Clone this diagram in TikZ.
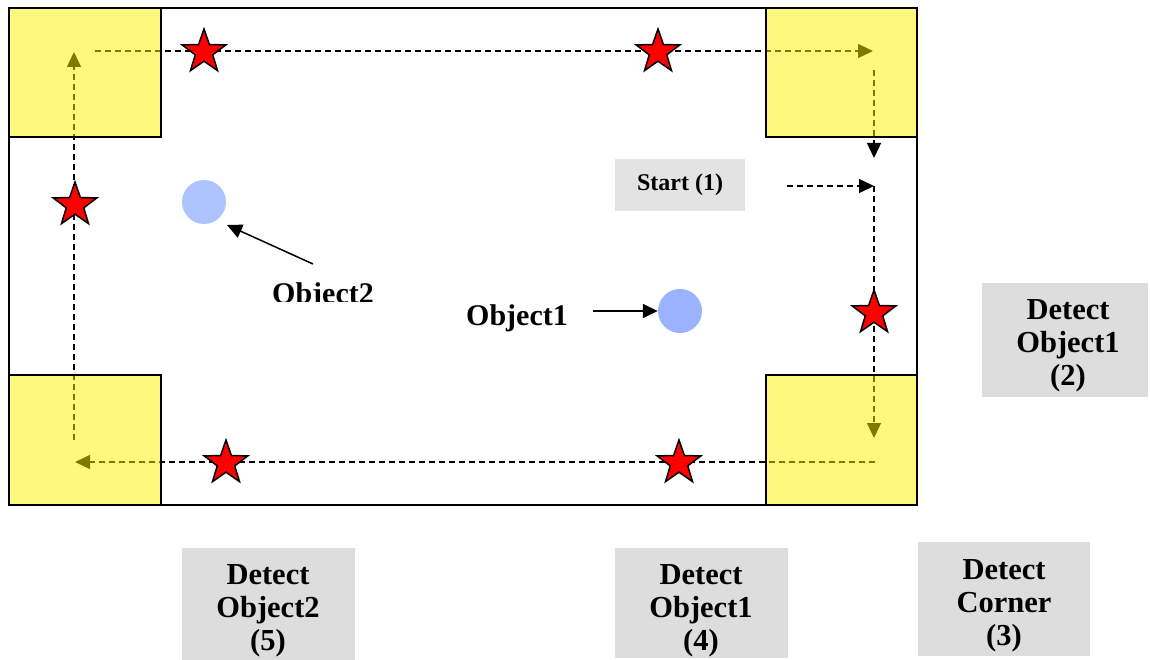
\documentclass[tikz,border=0pt]{standalone}
\usepackage{fontspec}
\setmainfont{Liberation Serif}
\usetikzlibrary{shapes.geometric,arrows.meta}
\definecolor{ballA}{HTML}{ADC4FF}
\definecolor{ballB}{HTML}{9BB3FF}
\definecolor{boxgrey}{HTML}{DDDDDD}
\definecolor{startgrey}{HTML}{E3E3E3}
\begin{document}
\begin{tikzpicture}[x=1pt,y=-1pt,
  redstar/.style={star, star points=5, star point ratio=2.5, minimum size=46pt, inner sep=0pt, fill=red, draw=black, line width=1.5pt},
  route/.style={dash pattern=on 6pt off 4pt, line width=1.3pt, -{Triangle[length=15pt,width=14pt]}},
  objarrow/.style={line width=1.5pt, -{Triangle[length=15pt,width=14pt]}},
  cornerbox/.style={draw=black, line width=1.8pt, fill=yellow, fill opacity=0.5},
  ball/.style={circle, minimum size=44pt, inner sep=0pt},
  dtext/.style={align=center, font=\fontsize{30.5}{33}\selectfont\bfseries, inner sep=0pt},
  lbl/.style={font=\fontsize{30}{33}\selectfont\bfseries, inner sep=0pt}
]
\useasboundingbox (0,0) rectangle (1150,660);

% outer arena
\draw[line width=1.8pt] (9,8) rectangle (917,505);

% route coordinates
\coordinate (p1) at (95,51);
\coordinate (p2) at (873,51);
\coordinate (q1) at (874,70);
\coordinate (q2) at (874,158);
\coordinate (s0) at (787,186);
\coordinate (s1) at (874,186);
\coordinate (r1) at (874,186);
\coordinate (r2) at (874,438);
\coordinate (b1) at (875,462);
\coordinate (b2) at (75,462);
\coordinate (l1) at (74,440);
\coordinate (l2) at (74,52);

\draw[route] (p1) -- (p2);
\draw[route] (q1) -- (q2);
\draw[route] (s0) -- (s1);
\draw[route] (r1) -- (r2);
\draw[route] (b1) -- (b2);
\draw[route] (l1) -- (l2);

% corner squares
\draw[cornerbox] (9,8) rectangle (161,137);
\draw[cornerbox] (766,8) rectangle (917,137);
\draw[cornerbox] (766,375) rectangle (917,505);
\draw[cornerbox] (9,375) rectangle (161,505);

% stars
\node[redstar] (st1) at (204,52) {};
\node[redstar] (st2) at (658,52) {};
\node[redstar] (st3) at (75,205) {};
\node[redstar] (st4) at (874,313) {};
\node[redstar] (st5) at (226,463) {};
\node[redstar] (st6) at (679,463) {};

% objects
\node[ball, fill=ballA] (o2) at (204,202) {};
\node[ball, fill=ballB] (o1) at (680,311) {};

\coordinate (a2s) at (313,264);
\coordinate (a2e) at (227,225);
\coordinate (a1s) at (593,311);
\draw[objarrow] (a2s) -- (a2e);
\draw[objarrow] (a1s) -- (o1);

\node[lbl, anchor=base] (lo1) at (517,325) {Object1};
\begin{scope}
  \clip (250,250) rectangle (400,301.5);
  \node[lbl, anchor=base] (lo2) at (323,303) {Object2};
\end{scope}

% start box
\node[fill=startgrey, minimum width=130pt, minimum height=52pt, inner sep=0pt,
      font=\fontsize{24}{28}\selectfont\bfseries] (start) at (680,185) {Start (1)};

% detect boxes
\fill[boxgrey] (982,283) rectangle (1148,397);
\node[dtext] (d2) at (1068,346) {Detect\\Object1\\(2)};

\fill[boxgrey] (918,542) rectangle (1090,656);
\node[dtext] (d3) at (1004,606) {Detect\\Corner\\(3)};

\fill[boxgrey] (615,548) rectangle (788,658);
\node[dtext] (d4) at (701,611) {Detect\\Object1\\(4)};

\fill[boxgrey] (182,548) rectangle (355,660);
\node[dtext] (d5) at (268,611) {Detect\\Object2\\(5)};
\end{tikzpicture}
\end{document}
